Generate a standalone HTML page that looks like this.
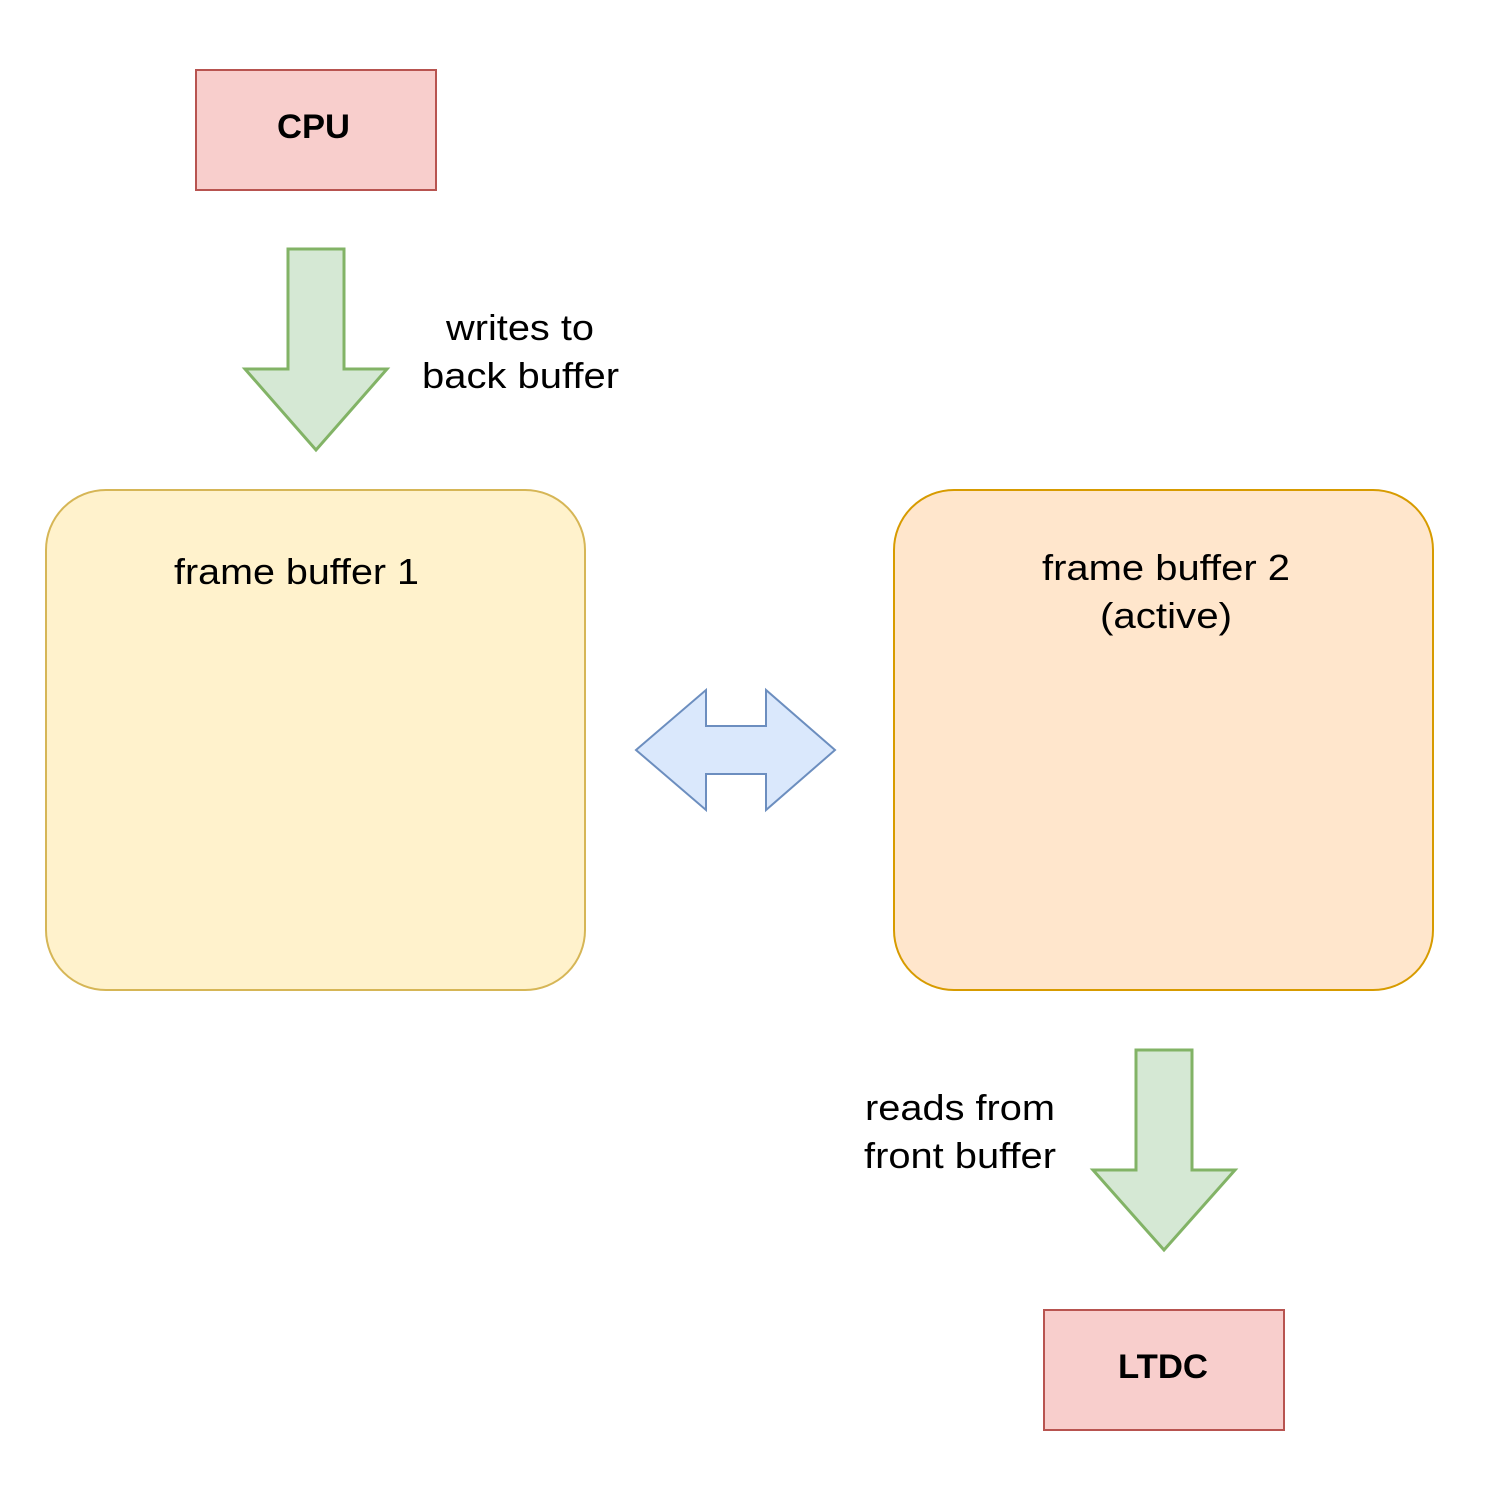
<!DOCTYPE html>
<html><head><style>
html,body{margin:0;padding:0;background:#fff;}
body{width:1489px;height:1496px;position:relative;overflow:hidden;font-family:"Liberation Sans",Arial,sans-serif;}
</style></head><body>
<svg width="1489" height="1496" viewBox="0 0 1489 1496" xmlns="http://www.w3.org/2000/svg" style="position:absolute;left:0;top:0">
<rect x="196" y="70" width="240" height="120" fill="#f8cecc" stroke="#b85450" stroke-width="2"/>
<text x="277" y="138" font-family="Liberation Sans, sans-serif" font-size="34" font-weight="bold" textLength="73" lengthAdjust="spacingAndGlyphs">CPU</text>
<polygon points="288,249 344,249 344,369 387,369 316,450 245,369 288,369" fill="#d5e8d4" stroke="#82b366" stroke-width="3"/>
<text x="446" y="340" font-family="Liberation Sans, sans-serif" font-size="36" textLength="148" lengthAdjust="spacingAndGlyphs">writes to</text>
<text x="422" y="388" font-family="Liberation Sans, sans-serif" font-size="36" textLength="197" lengthAdjust="spacingAndGlyphs">back buffer</text>
<rect x="46" y="490" width="539" height="500" rx="60" fill="#fff2cc" stroke="#d6b656" stroke-width="2"/>
<text x="174" y="584" font-family="Liberation Sans, sans-serif" font-size="36" textLength="245" lengthAdjust="spacingAndGlyphs">frame buffer 1</text>
<rect x="894" y="490" width="539" height="500" rx="60" fill="#ffe6cc" stroke="#d79b00" stroke-width="2"/>
<text x="1042" y="580" font-family="Liberation Sans, sans-serif" font-size="36" textLength="248" lengthAdjust="spacingAndGlyphs">frame buffer 2</text>
<text x="1100" y="628" font-family="Liberation Sans, sans-serif" font-size="36" textLength="132" lengthAdjust="spacingAndGlyphs">(active)</text>
<polygon points="636,750 706,690 706,726 766,726 766,690 835,750 766,810 766,774 706,774 706,810" fill="#dae8fc" stroke="#6c8ebf" stroke-width="2"/>
<polygon points="1136,1050 1192,1050 1192,1170 1235,1170 1164,1250 1093,1170 1136,1170" fill="#d5e8d4" stroke="#82b366" stroke-width="3"/>
<text x="865" y="1120" font-family="Liberation Sans, sans-serif" font-size="36" textLength="190" lengthAdjust="spacingAndGlyphs">reads from</text>
<text x="864" y="1168" font-family="Liberation Sans, sans-serif" font-size="36" textLength="192" lengthAdjust="spacingAndGlyphs">front buffer</text>
<rect x="1044" y="1310" width="240" height="120" fill="#f8cecc" stroke="#b85450" stroke-width="2"/>
<text x="1118" y="1378" font-family="Liberation Sans, sans-serif" font-size="34" font-weight="bold" textLength="90" lengthAdjust="spacingAndGlyphs">LTDC</text>
</svg>
</body></html>
